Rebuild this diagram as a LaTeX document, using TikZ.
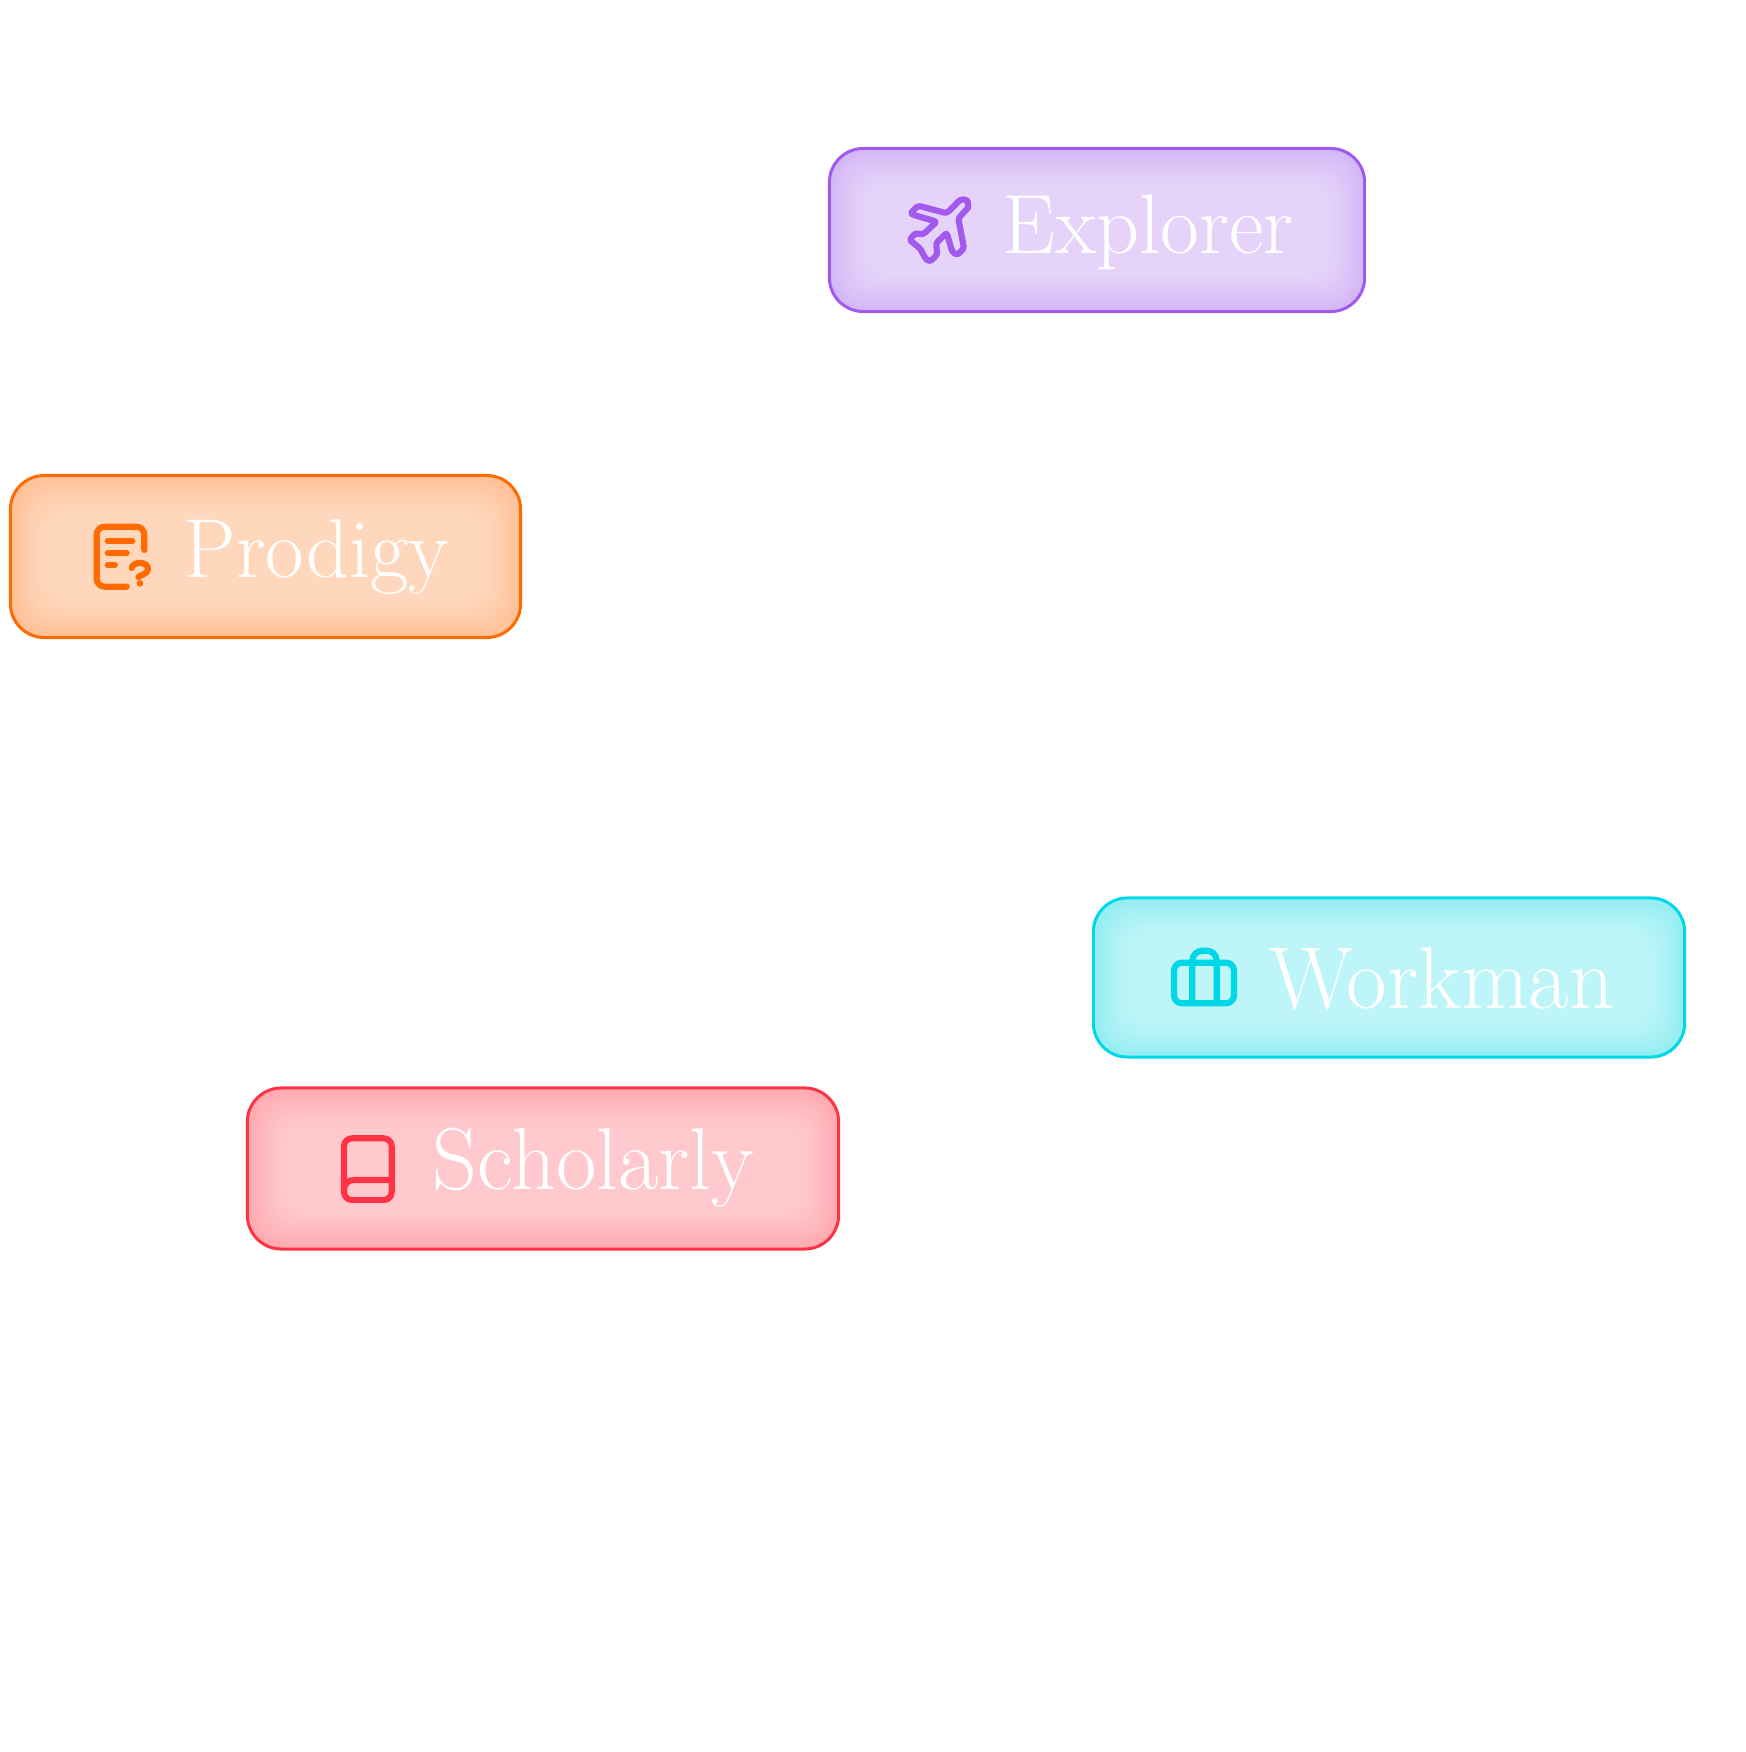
\documentclass[tikz,border=0pt]{standalone}
\usepackage{fontspec}
\usetikzlibrary{calc}
\definecolor{explorerline}{HTML}{A259EE}
\definecolor{explorerglow}{HTML}{D3B6F5}
\definecolor{explorermid}{HTML}{E5D3FA}
\definecolor{prodigyline}{HTML}{FF6B00}
\definecolor{prodigyglow}{HTML}{FFBF94}
\definecolor{prodigymid}{HTML}{FFD7BD}
\definecolor{workmanline}{HTML}{00D8E8}
\definecolor{workmanglow}{HTML}{92EDF1}
\definecolor{workmanmid}{HTML}{BDF5F8}
\definecolor{scholarlyline}{HTML}{FF3344}
\definecolor{scholarlyglow}{HTML}{FFA8AF}
\definecolor{scholarlymid}{HTML}{FFC9CE}
\tikzset{
  tagbox/.style={draw=#1line, line width=0.85pt, rounded corners=0.34cm, fill=#1mid, inner sep=0pt,
    path picture={
      % inner glow: nested fills from the edge inwards
      \foreach \i in {0,...,36}{
        \pgfmathsetmacro{\inset}{\i*1.1}
        \pgfmathsetmacro{\pct}{100*(1-\i/36)^1.4}
        \pgfmathsetmacro{\rad}{(34-0.3*\inset)*0.2845}
        \fill[#1glow!\pct!#1mid, rounded corners=\rad pt]
          ($(path picture bounding box.north west)+(\inset,\inset)$) rectangle
          ($(path picture bounding box.south east)-(\inset,\inset)$);
      }
    }},
  taglabel/.style={anchor=base west, inner sep=0pt, text=white},
  tagicon/.style={line width=1.75pt, line cap=round, line join=round}
}
\newcommand{\tagfont}[1]{\fontsize{#1}{#1}\selectfont\addfontfeature{FakeBold=0.8}}
\begin{document}
\begin{tikzpicture}[x=0.01cm, y=-0.01cm]
\useasboundingbox (0,0) rectangle (1746,1752);
% the four tags
\node[tagbox=explorer, minimum width=5.35cm, minimum height=1.63cm] (explorerbox) at (1097,230) {};
\node[tagbox=prodigy, minimum width=5.10cm, minimum height=1.62cm] (prodigybox) at (265.5,556.5) {};
\node[tagbox=workman, minimum width=5.91cm, minimum height=1.59cm] (workmanbox) at (1389,977.5) {};
\node[tagbox=scholarly, minimum width=5.91cm, minimum height=1.61cm] (scholarlybox) at (543,1168.5) {};
% labels
\node[taglabel, font=\tagfont{24}] (explorertext) at (1002,254) {Explorer};
\node[taglabel, font=\tagfont{23.8}] (prodigytext) at (183,577) {Prodigy};
\node[taglabel, font=\tagfont{25}] (workmantext) at (1269,1008) {Workman};
\node[taglabel, font=\tagfont{25}] (scholarlytext) at (432,1189) {Scholarly};
% plane
\draw[tagicon, explorerline, rounded corners=0.025cm] (946.7,213.3) -- (956,204) .. controls (961,198) and (968,199) .. (968,205)
  .. controls (968,208) and (966,210) .. (958.3,218.3)
  -- (964,248.3) -- (957.3,255) -- (952.3,252) -- (946.7,232.7) -- (936,243.3) -- (937.3,254.3) -- (930,261.7)
  -- (925.7,259) -- (920,248.3) -- (909.5,240) -- (915,233.3) -- (923.3,234.3) -- (936.7,221.7) -- (912,214.5)
  -- (911.7,211.7) -- (918.3,205.7) -- cycle;
% sheet with question mark
\draw[tagicon, prodigyline, rounded corners=0.08cm] (144.3,550) -- (144.3,526.7) -- (96.7,526.7) -- (96.7,586.7) -- (126.7,586.7);
\draw[tagicon, prodigyline] (107.7,541) -- (132.3,541);
\draw[tagicon, prodigyline] (107.7,553.3) -- (126.7,553.3);
\draw[tagicon, prodigyline] (107.7,565) -- (115,565);
\draw[tagicon, prodigyline] (131.7,568) .. controls (133,561) and (148,561) .. (148,569) .. controls (148,574) and (142,574) .. (138.5,577);
\fill[prodigyline] (140,583.3) circle (3.3);
% case
\draw[tagicon, workmanline, rounded corners=0.08cm] (1174,962.7) rectangle (1234,1003.3);
\draw[tagicon, workmanline, rounded corners=0.1cm] (1192.3,1003.3) -- (1192.3,950.7) -- (1216.7,950.7) -- (1216.7,1003.3);
\draw[tagicon, workmanline] (1192.3,962.7) -- (1216.7,962.7);
% book
\draw[tagicon, scholarlyline, rounded corners=0.08cm] (344,1138.3) rectangle (391.7,1200);
\draw[tagicon, scholarlyline] (391.7,1180) -- (354,1180) .. controls (348,1180) and (344,1184) .. (344,1190);
\end{tikzpicture}
\end{document}
